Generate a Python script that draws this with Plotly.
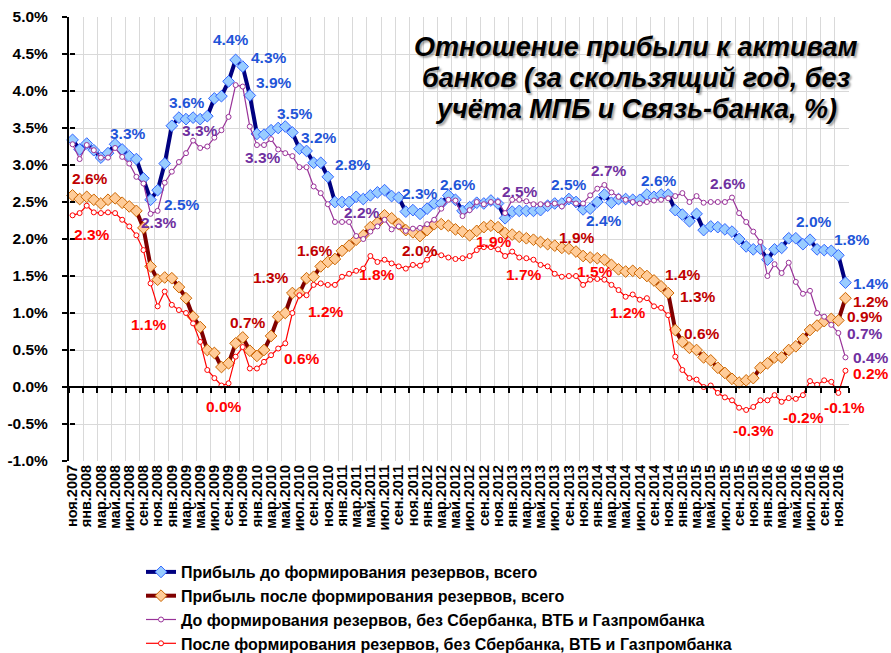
import plotly.graph_objects as go

# ---------------- data ----------------
CATEGORIES = [
    "ноя.2007", "дек.2007",
    "янв.2008", "фев.2008", "мар.2008", "апр.2008", "май.2008", "июн.2008",
    "июл.2008", "авг.2008", "сен.2008", "окт.2008", "ноя.2008", "дек.2008",
    "янв.2009", "фев.2009", "мар.2009", "апр.2009", "май.2009", "июн.2009",
    "июл.2009", "авг.2009", "сен.2009", "окт.2009", "ноя.2009", "дек.2009",
    "янв.2010", "фев.2010", "мар.2010", "апр.2010", "май.2010", "июн.2010",
    "июл.2010", "авг.2010", "сен.2010", "окт.2010", "ноя.2010", "дек.2010",
    "янв.2011", "фев.2011", "мар.2011", "апр.2011", "май.2011", "июн.2011",
    "июл.2011", "авг.2011", "сен.2011", "окт.2011", "ноя.2011", "дек.2011",
    "янв.2012", "фев.2012", "мар.2012", "апр.2012", "май.2012", "июн.2012",
    "июл.2012", "авг.2012", "сен.2012", "окт.2012", "ноя.2012", "дек.2012",
    "янв.2013", "фев.2013", "мар.2013", "апр.2013", "май.2013", "июн.2013",
    "июл.2013", "авг.2013", "сен.2013", "окт.2013", "ноя.2013", "дек.2013",
    "янв.2014", "фев.2014", "мар.2014", "апр.2014", "май.2014", "июн.2014",
    "июл.2014", "авг.2014", "сен.2014", "окт.2014", "ноя.2014", "дек.2014",
    "янв.2015", "фев.2015", "мар.2015", "апр.2015", "май.2015", "июн.2015",
    "июл.2015", "авг.2015", "сен.2015", "окт.2015", "ноя.2015", "дек.2015",
    "янв.2016", "фев.2016", "мар.2016", "апр.2016", "май.2016", "июн.2016",
    "июл.2016", "авг.2016", "сен.2016", "окт.2016", "ноя.2016", "дек.2016",
]

PRE_TOTAL = [
    3.34, 3.21, 3.29, 3.20, 3.10, 3.16, 3.28, 3.21, 3.12, 3.08,
    2.82, 2.53, 2.66, 3.02, 3.53, 3.64, 3.62, 3.64, 3.62, 3.66,
    3.90, 3.93, 4.13, 4.42, 4.33, 3.94, 3.42, 3.41, 3.47, 3.50,
    3.52, 3.44, 3.22, 3.19, 3.03, 3.03, 2.84, 2.50, 2.50, 2.50,
    2.57, 2.54, 2.59, 2.63, 2.66, 2.58, 2.56, 2.37, 2.39, 2.34,
    2.41, 2.48, 2.48, 2.59, 2.53, 2.38, 2.43, 2.49, 2.48, 2.52,
    2.48, 2.28, 2.37, 2.38, 2.38, 2.38, 2.39, 2.45, 2.48, 2.48,
    2.54, 2.50, 2.40, 2.41, 2.50, 2.60, 2.49, 2.54, 2.54, 2.53,
    2.53, 2.60, 2.57, 2.60, 2.60, 2.39, 2.33, 2.24, 2.34, 2.12,
    2.17, 2.16, 2.13, 2.10, 2.00, 1.90, 1.86, 1.87, 1.72, 1.86,
    1.88, 2.01, 2.01, 1.93, 1.99, 1.86, 1.85, 1.84, 1.78, 1.41,
]

POST_TOTAL = [
    2.59, 2.54, 2.57, 2.53, 2.48, 2.53, 2.55, 2.49, 2.44, 2.38,
    2.15, 1.63, 1.45, 1.48, 1.47, 1.35, 1.20, 0.95, 0.81, 0.50,
    0.46, 0.27, 0.32, 0.59, 0.67, 0.49, 0.42, 0.50, 0.69, 0.95,
    1.00, 1.27, 1.27, 1.47, 1.49, 1.63, 1.69, 1.73, 1.84, 1.91,
    1.99, 2.05, 2.16, 2.22, 2.32, 2.28, 2.20, 2.12, 2.09, 2.04,
    2.12, 2.20, 2.20, 2.18, 2.13, 2.10, 2.05, 2.11, 2.16, 2.18,
    2.16, 2.08, 2.06, 2.03, 2.01, 1.99, 1.96, 1.93, 1.91, 1.88,
    1.87, 1.83, 1.77, 1.75, 1.74, 1.72, 1.65, 1.59, 1.56, 1.57,
    1.54, 1.50, 1.44, 1.36, 1.27, 0.77, 0.61, 0.53, 0.50, 0.40,
    0.36, 0.26, 0.19, 0.11, 0.06, 0.09, 0.12, 0.26, 0.32, 0.40,
    0.40, 0.50, 0.55, 0.65, 0.77, 0.83, 0.89, 0.92, 0.90, 1.20,
]

PRE_EX3 = [
    3.28, 3.08, 3.27, 3.20, 3.10, 3.10, 3.23, 3.11, 3.02, 2.84,
    2.75, 2.34, 2.38, 2.76, 2.91, 3.04, 3.16, 3.33, 3.23, 3.25,
    3.37, 3.47, 3.65, 4.08, 4.06, 3.52, 3.27, 3.27, 3.35, 3.21,
    3.16, 3.12, 2.97, 2.97, 2.71, 2.62, 2.47, 2.23, 2.23, 2.23,
    2.04, 2.00, 2.10, 2.17, 2.26, 2.13, 2.17, 2.11, 2.14, 2.15,
    2.20, 2.26, 2.41, 2.53, 2.52, 2.31, 2.39, 2.50, 2.47, 2.50,
    2.50, 2.35, 2.53, 2.53, 2.51, 2.47, 2.47, 2.47, 2.48, 2.44,
    2.53, 2.48, 2.48, 2.59, 2.68, 2.73, 2.63, 2.57, 2.53, 2.50,
    2.48, 2.50, 2.52, 2.53, 2.55, 2.58, 2.62, 2.50, 2.58, 2.49,
    2.50, 2.50, 2.50, 2.56, 2.35, 2.23, 2.10, 1.96, 1.50, 1.66,
    1.54, 1.68, 1.42, 1.26, 1.30, 1.00, 0.95, 0.84, 0.73, 0.40,
]

POST_EX3 = [
    2.32, 2.35, 2.45, 2.36, 2.35, 2.36, 2.35, 2.26, 2.17, 2.05,
    1.85, 1.40, 1.09, 1.29, 1.11, 1.04, 1.00, 0.86, 0.61, 0.23,
    0.12, 0.02, 0.05, 0.41, 0.54, 0.25, 0.25, 0.34, 0.43, 0.52,
    0.59, 1.00, 1.24, 1.24, 1.38, 1.40, 1.38, 1.38, 1.49, 1.53,
    1.57, 1.60, 1.77, 1.69, 1.72, 1.67, 1.63, 1.60, 1.65, 1.64,
    1.72, 1.81, 1.78, 1.75, 1.73, 1.74, 1.77, 1.85, 1.89, 1.89,
    1.86, 1.77, 1.83, 1.75, 1.74, 1.72, 1.65, 1.63, 1.53, 1.49,
    1.50, 1.50, 1.38, 1.45, 1.46, 1.45, 1.38, 1.31, 1.22, 1.25,
    1.18, 1.20, 1.09, 1.07, 0.97, 0.41, 0.23, 0.12, 0.10, 0.00,
    0.02, -0.08, -0.14, -0.18, -0.28, -0.31, -0.27, -0.18, -0.18, -0.11,
    -0.20, -0.15, -0.16, -0.11, 0.08, 0.03, 0.09, 0.07, -0.08, 0.22,
]

SERIES_NAMES = [
    "Прибыль до формирования резервов, всего",
    "Прибыль после формирования резервов, всего",
    "До формирования резервов, без Сбербанка, ВТБ и Газпромбанка",
    "После формирования резервов, без Сбербанка, ВТБ и Газпромбанка",
]

TITLE_LINES = [
    "Отношение прибыли к активам",
    "банков (за скользящий год, без",
    "учёта МПБ и Связь-банка, %)",
]

Y_TICKS = [-1.0, -0.5, 0.0, 0.5, 1.0, 1.5, 2.0, 2.5, 3.0, 3.5, 4.0, 4.5, 5.0]

# labelled points: (index, xshift px, yshift px)
LABELS_PRE_TOTAL = [(6, 13, 11), (15, 8, 15), (11, 31, -5), (23, -5, 20), (24, 26, 9),
                    (25, 24, 13), (30, 10, 13), (33, 12, 13), (36, 25, 12), (49, 0, 20),
                    (53, 10, 11), (70, 0, 15), (73, 14, -12), (83, -2, 14), (102, 18, 17),
                    (108, 14, 16), (109, 26, -1)]
LABELS_POST_TOTAL = [(0, 17, 17), (24, 5, 15), (31, -21, 16), (35, -6, 16), (49, 0, -14),
                     (70, 8, 11), (82, 29, 6), (84, 30, -3), (86, 20, 8), (108, 27, 4),
                     (109, 26, -3)]
LABELS_PRE_EX3 = [(17, 7, 10), (11, 8, -9), (27, -1, -12), (38, 20, 9), (62, 8, 8),
                  (75, 5, 14), (93, -4, 14), (108, 27, -1), (109, 26, 0)]
LABELS_POST_EX3 = [(0, 19, -19), (12, -9, -18), (21, 3, -21), (30, 17, -15), (33, 19, -16),
                   (42, 7, -18), (58, 10, 6), (64, -2, -16), (74, -2, 7), (81, -19, -14),
                   (95, 7, -21), (100, 22, -16), (108, 6, -15), (109, 26, -3)]

# ---------------- layout constants ----------------
W, H = 891, 653
ML, MR, MT, MB = 69, 42, 17, 192
PW, PH = W - ML - MR, H - MT - MB
FONT = "Liberation Sans, Arial, sans-serif"
Y_MIN, Y_MAX = -1.0, 5.0


def paper_x(px):
    return (px - ML) / PW


def paper_y(py):
    return (MT + PH - py) / PH


x_idx = list(range(len(CATEGORIES)))
tick_idx = x_idx[::2]
tick_text = [CATEGORIES[i] for i in tick_idx]
boundaries = [i - 0.5 for i in tick_idx] + [len(CATEGORIES) - 0.5]
x_range = [-0.5, len(CATEGORIES) - 0.5]

styles = [
    dict(line=dict(color="#000080", width=4),
         marker=dict(symbol="diamond", size=9, color="#99CCFF", line=dict(color="#3366FF", width=1))),
    dict(line=dict(color="#800000", width=4),
         marker=dict(symbol="diamond", size=9, color="#FFCC99", line=dict(color="#CC6600", width=1))),
    dict(line=dict(color="#993399", width=1.2),
         marker=dict(symbol="circle", size=5, color="#FFFFFF", line=dict(color="#993399", width=1))),
    dict(line=dict(color="#FF0000", width=1.2),
         marker=dict(symbol="circle", size=5, color="#FFFFFF", line=dict(color="#FF0000", width=1))),
]
series = [PRE_TOTAL, POST_TOTAL, PRE_EX3, POST_EX3]
label_specs = [LABELS_PRE_TOTAL, LABELS_POST_TOTAL, LABELS_PRE_EX3, LABELS_POST_EX3]
label_colors = ["#1F55D8", "#C00000", "#7030A0", "#FF0000"]

fig = go.Figure()
for name, vals, st in zip(SERIES_NAMES, series, styles):
    fig.add_trace(go.Scatter(x=x_idx, y=vals, name=name, mode="lines+markers",
                             line=st["line"], marker=st["marker"], cliponaxis=False,
                             hoverinfo="x+y"))

# dummy trace to create overlay axes (zero-line category axis, crossing y ticks)
fig.add_trace(go.Scatter(x=[None], y=[None], xaxis="x2", yaxis="y2", showlegend=False,
                         hoverinfo="skip", mode="lines"))

annotations = []
for vals, specs, col in zip(series, label_specs, label_colors):
    for (i, dx, dy) in specs:
        annotations.append(dict(x=i, y=vals[i], xref="x", yref="y", text=f"{vals[i]:.1f}%",
                                showarrow=False, xshift=dx, yshift=dy,
                                xanchor="center", yanchor="middle",
                                font=dict(family=FONT, size=15.5, color=col, weight="bold")))

title_centers_y = [47, 78, 109]
for line, cy in zip(TITLE_LINES, title_centers_y):
    annotations.append(dict(x=paper_x(636), y=paper_y(cy), xref="paper", yref="paper",
                            text=line, showarrow=False, xanchor="center", yanchor="middle",
                            font=dict(family=FONT, size=27, color="black", weight="bold",
                                      style="italic", shadow="2px 2px 2px rgba(0,0,0,0.35)")))

shapes = [dict(type="rect", xref="paper", yref="paper",
               x0=paper_x(413), x1=paper_x(860), y0=paper_y(128), y1=paper_y(31),
               fillcolor="white", line=dict(width=0), layer="between")]

fig.update_layout(
    width=W, height=H,
    margin=dict(l=ML, r=MR, t=MT, b=MB, pad=0, autoexpand=False),
    paper_bgcolor="white", plot_bgcolor="white",
    font=dict(family=FONT, color="black"),
    showlegend=True,
    legend=dict(xref="container", yref="container", x=141 / W, y=(H - 555) / H,
                xanchor="left", yanchor="top",
                font=dict(family=FONT, size=16, color="black", weight="bold"),
                bgcolor="rgba(0,0,0,0)", itemwidth=30, tracegroupgap=0),
    xaxis=dict(range=x_range, tickmode="array", tickvals=tick_idx, ticktext=tick_text,
               tickangle=-90, tickfont=dict(family=FONT, size=14.5, color="black", weight="bold"),
               showgrid=False, zeroline=False, showline=False, ticks="", automargin=False),
    yaxis=dict(range=[Y_MIN, Y_MAX], tickmode="array", tickvals=Y_TICKS,
               ticktext=[f"{v:.1f}%" for v in Y_TICKS],
               tickfont=dict(family=FONT, size=15.5, color="black", weight="bold"),
               showgrid=True, gridcolor="#D9D9D9", gridwidth=1, zeroline=False,
               showline=True, linecolor="black", linewidth=2,
               ticks="outside", ticklen=5, tickwidth=2, tickcolor="black",
               ticklabelstandoff=11, automargin=False),
    xaxis2=dict(overlaying="x", anchor="free", position=(0 - Y_MIN) / (Y_MAX - Y_MIN),
                range=x_range, tickmode="array", tickvals=boundaries, showticklabels=False,
                showgrid=True, gridcolor="#D9D9D9", gridwidth=1, zeroline=False,
                showline=True, linecolor="black", linewidth=2,
                ticks="outside", ticklen=5, tickwidth=2, tickcolor="black"),
    yaxis2=dict(overlaying="y", anchor="free", position=0, range=[Y_MIN, Y_MAX],
                tickmode="array", tickvals=Y_TICKS, showticklabels=False, showgrid=False,
                zeroline=False, showline=False, ticks="inside", ticklen=5, tickwidth=2,
                tickcolor="black"),
    annotations=annotations,
    shapes=shapes,
)

fig.write_html("out.html", config={"displayModeBar": False},
               post_script="document.body.style.margin='0px';document.body.style.padding='0px';")

# remove the browser's default page margin so the figure starts at the window corner
with open("out.html", encoding="utf-8") as fh:
    html = fh.read()
html = html.replace("<body>", '<body style="margin:0;padding:0;overflow:hidden">', 1)
with open("out.html", "w", encoding="utf-8") as fh:
    fh.write(html)
